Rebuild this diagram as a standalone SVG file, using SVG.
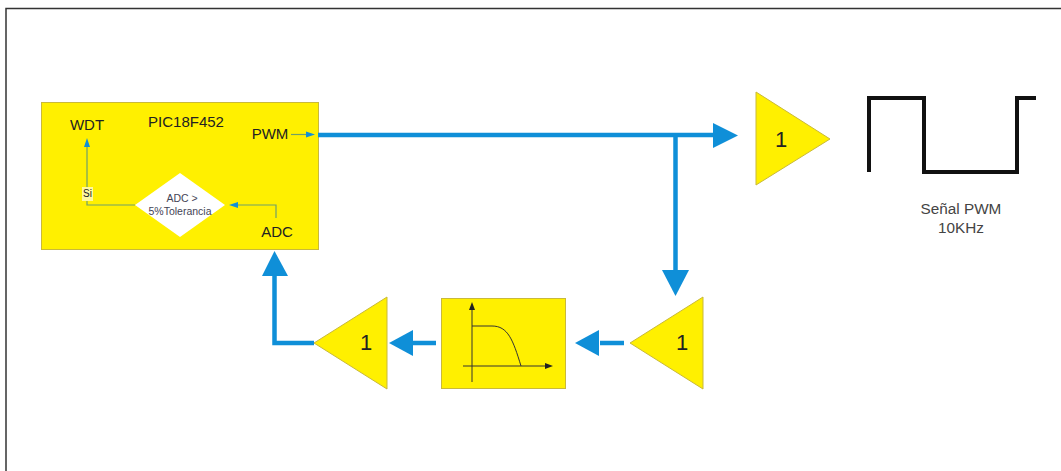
<svg xmlns="http://www.w3.org/2000/svg" width="1061" height="471" viewBox="0 0 1061 471">
<style>
text{font-family:"Liberation Sans",Arial,sans-serif;fill:#222;text-anchor:middle}
.y{fill:#fff000;stroke:#c9b93a;stroke-width:1}
.b{fill:none;stroke:#0f8fd8;stroke-width:4.500}
.h{fill:#0f8fd8}
.t{fill:none;stroke:#6f9f6a;stroke-width:1.200}
.k{fill:none;stroke:#111;stroke-width:4;stroke-linejoin:miter}
.a{fill:none;stroke:#333;stroke-width:1}
.m{font-size:15px}
.d{font-size:10.500px;fill:#445}
.n{font-size:22px}
.s{font-size:15.300px;fill:#444}
</style>
<rect width="1061" height="471" fill="#fff"/>
<path d="M6 471V8.500H1061" fill="none" stroke="#333" stroke-width="1.500"/>
<g id="pic">
<rect class="y" x="41.500" y="102.500" width="277" height="147"/>
<text class="m" x="186" y="127">PIC18F452</text>
</g>
<g id="wdt"><text class="m" x="87" y="130">WDT</text></g>
<g id="pwm"><text class="m" x="270" y="139">PWM</text></g>
<g id="adc"><text class="m" x="277" y="237">ADC</text></g>
<g id="decision">
<polygon points="180,173 225,205 180,237 135,205" fill="#fff"/>
<text class="d" x="182" y="202">ADC &gt;</text>
<text class="d" x="180" y="215">5%Tolerancia</text>
</g>
<g id="amp-out">
<polygon class="y" points="756,92 830,139 756,185"/>
<text class="n" x="781" y="147">1</text>
</g>
<g id="amp-in">
<polygon class="y" points="703,297 630,343 703,389"/>
<text class="n" x="682" y="350">1</text>
</g>
<g id="filter">
<rect class="y" x="441.500" y="298.500" width="124" height="90"/>
<path class="a" d="M472 382V306M463 366H548M472 326H492C508 326 513 340 521 366"/>
<path d="M472 302l-3 8h6zM553 366l-8-3v6z" fill="#222"/>
</g>
<g id="amp-back">
<polygon class="y" points="387,297 314,343 387,389"/>
<text class="n" x="366" y="350">1</text>
</g>
<g id="signal">
<path class="k" d="M869 172V98H924V172H1017V98H1036"/>
<text class="s" x="961" y="214">Señal PWM</text>
<text class="s" x="961" y="233">10KHz</text>
</g>
<g id="connectors">
<path class="b" d="M318 135H715"/>
<polygon class="h" points="713,123 738,135.500 713,148"/>
<path class="b" d="M675.500 135V270"/>
<polygon class="h" points="662,270 689,270 675.500,296"/>
<path class="b" d="M624 343H600"/>
<polygon class="h" points="575,343 599,330 599,356"/>
<path class="b" d="M436 343H413"/>
<polygon class="h" points="389,343 413,330 413,356"/>
<path class="b" d="M314 343H274.500V275"/>
<polygon class="h" points="262,276 288,276 274.500,251"/>
<path class="t" d="M291 134.500H312"/>
<polygon class="h" points="315,134.500 306,131.500 306,137.500"/>
<path class="t" d="M276 218V205H232"/>
<polygon class="h" points="229,205 238,202 238,208"/>
<path class="t" d="M135 205H87V146"/>
<polygon class="h" points="87,138 84,147 90,147"/>
</g>
<g id="si"><rect x="82" y="187" width="11" height="14" fill="#fff8a0"/><text x="87.500" y="197" font-size="10" fill="#345">Si</text></g>
</svg>
